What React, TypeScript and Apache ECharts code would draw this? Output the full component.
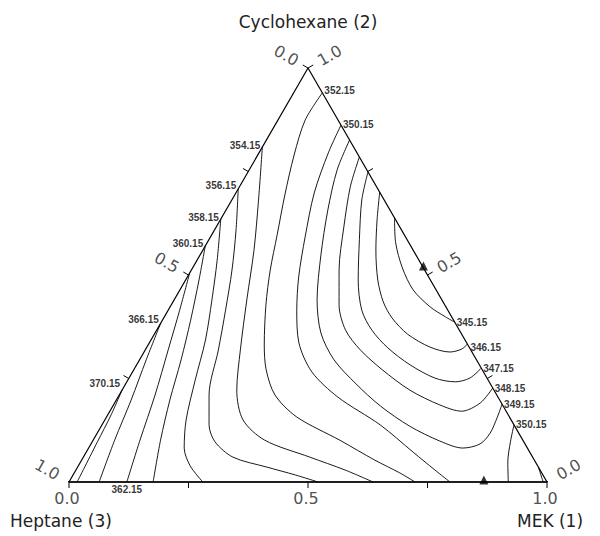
import React, { useEffect, useRef } from "react";
import * as echarts from "echarts";

const H = Math.sqrt(3) / 2;

// Isotherms: compositions [x MEK (1), x Cyclohexane (2)], first point = labelled end
const iso345 = [[0.614,0.386],[0.588,0.399],[0.544,0.423],[0.488,0.464],[0.439,0.517],[0.395,0.577],[0.362,0.638]];
const iso346 = [[0.667,0.333],[0.661,0.321],[0.640,0.314],[0.592,0.326],[0.530,0.357],[0.478,0.396],[0.440,0.435],[0.402,0.488],[0.362,0.560],[0.328,0.633],[0.300,0.700]];
const iso347 = [[0.725,0.275],[0.713,0.251],[0.687,0.242],[0.640,0.251],[0.572,0.283],[0.505,0.324],[0.450,0.367],[0.405,0.415],[0.361,0.488],[0.315,0.585],[0.272,0.681],[0.251,0.749]];
const iso348 = [[0.773,0.227],[0.765,0.191],[0.736,0.171],[0.683,0.186],[0.602,0.222],[0.520,0.271],[0.450,0.319],[0.395,0.367],[0.351,0.428],[0.309,0.512],[0.267,0.616],[0.232,0.713],[0.215,0.785]];
const iso349 = [[0.812,0.188],[0.818,0.155],[0.822,0.118],[0.814,0.092],[0.783,0.082],[0.726,0.099],[0.645,0.135],[0.559,0.184],[0.482,0.237],[0.407,0.295],[0.347,0.360],[0.299,0.440],[0.253,0.548],[0.213,0.657],[0.184,0.754],[0.174,0.826]];
const iso350a = [[0.138,0.862],[0.145,0.795],[0.164,0.698],[0.198,0.592],[0.233,0.495],[0.269,0.415],[0.313,0.336],[0.375,0.266],[0.460,0.205],[0.582,0.138],[0.684,0.072],[0.751,0.029],[0.797,0]];
const iso350b = [[0.862,0.138],[0.875,0.097],[0.894,0.048],[0.919,0]];
const iso352a = [[0.060,0.940],[0.057,0.874],[0.076,0.790],[0.105,0.693],[0.137,0.597],[0.165,0.512],[0.198,0.428],[0.243,0.331],[0.277,0.271],[0.326,0.210],[0.398,0.157],[0.516,0.101],[0.613,0.053],[0.681,0.022],[0.724,0]];
const iso352b = [[0.964,0.036],[0.992,0]];
const iso354 = [[0,0.809],[0.056,0.681],[0.107,0.560],[0.152,0.440],[0.199,0.319],[0.240,0.222],[0.289,0.150],[0.359,0.101],[0.474,0.060],[0.563,0.029],[0.636,0]];
const iso356 = [[0,0.708],[0.045,0.609],[0.085,0.512],[0.120,0.415],[0.153,0.319],[0.188,0.210],[0.224,0.138],[0.257,0.097],[0.313,0.060],[0.396,0.036],[0.465,0.017],[0.521,0]];
const iso358 = [[0,0.635],[0.042,0.536],[0.079,0.440],[0.114,0.343],[0.141,0.246],[0.170,0.150],[0.200,0.082],[0.234,0.039],[0.280,0]];
const iso360 = [[0,0.570],[0.028,0.488],[0.059,0.391],[0.087,0.295],[0.112,0.198],[0.141,0.101],[0.176,0]];
const iso362 = [[0.121,0],[0.098,0.101],[0.075,0.210],[0.048,0.319],[0.024,0.415],[0,0.505]];
const iso366 = [[0,0.384],[0.014,0.295],[0.031,0.198],[0.045,0.101],[0.063,0]];
const iso370 = [[0,0.222],[0.007,0.162],[0.011,0.097],[0.017,0]];

const levels = ["345.15","346.15","347.15","348.15","349.15","350.15","352.15","354.15","356.15","358.15","360.15","362.15","366.15","370.15"];

// azeotropes [x1, x2]
const azeotropes = [[0.483,0.517],[0.868,0]];

const tickMarks = [0, 0.25, 0.5, 0.75, 1];
const tickLabels = [0, 0.5, 1];

const axisTitles = ["Cyclohexane (2)", "Heptane (3)", "MEK (1)"];

const PX = 478; // pixels per data unit

const toXY = (p: number[]) => [p[0] + p[1] / 2, p[1] * H];

export default function App() {
  const ref = useRef<HTMLDivElement>(null);
  useEffect(() => {
    const chart = echarts.init(ref.current!, null, { renderer: "svg" });

    const contourDefs: any[] = [
      { level: levels[0], pts: iso345, pos: "right", off: [0, 0] },
      { level: levels[1], pts: iso346, pos: "right", off: [1, 3] },
      { level: levels[2], pts: iso347, pos: "right", off: [0, 0] },
      { level: levels[3], pts: iso348, pos: "right", off: [0, 0] },
      { level: levels[4], pts: iso349, pos: "right", off: [0, 0] },
      { level: levels[5], pts: iso350a, pos: "right", off: [0, -1] },
      { level: levels[5], pts: iso350b, pos: "right", off: [0, 0] },
      { level: levels[6], pts: iso352a, pos: "right", off: [0, -2] },
      { level: levels[6], pts: iso352b, pos: null, off: [0, 0] },
      { level: levels[7], pts: iso354, pos: "left", off: [0, -2] },
      { level: levels[8], pts: iso356, pos: "left", off: [0, -3] },
      { level: levels[9], pts: iso358, pos: "left", off: [0, -2] },
      { level: levels[10], pts: iso360, pos: "left", off: [0, -3] },
      { level: levels[11], pts: iso362, pos: "bottom", off: [0, 0] },
      { level: levels[12], pts: iso366, pos: "left", off: [0, -4] },
      { level: levels[13], pts: iso370, pos: "left", off: [0, -7] },
    ];

    const series: any[] = [];
    const black = "#000";

    // frame
    series.push({
      type: "line",
      data: [[0, 0], [1, 0], [0, 1], [0, 0]].map(toXY),
      symbol: "none",
      lineStyle: { color: black, width: 1.2 },
      clip: false,
      silent: true,
      z: 4,
    });
    series.push({
      type: "line",
      data: [[0, 0], [1, 0]].map(toXY),
      symbol: "none",
      lineStyle: { color: black, width: 1.6 },
      clip: false,
      silent: true,
      z: 4,
    });

    // edges: composition for parameter t and outward normal (data units, y up)
    const edges = [
      { f: (t: number) => [t, 0], n: [0, -1], rot: 0, dist: 16, shift: -2 },
      { f: (t: number) => [1 - t, t], n: [H, 0.5], rot: 30, dist: 25, shift: 0 },
      { f: (t: number) => [0, 1 - t], n: [-H, 0.5], rot: -30, dist: 25, shift: 0 },
    ];
    const tickLen = 6 / PX;
    edges.forEach((e) => {
      tickMarks.forEach((t) => {
        const p = toXY(e.f(t));
        series.push({
          type: "line",
          data: [p, [p[0] + e.n[0] * tickLen, p[1] + e.n[1] * tickLen]],
          symbol: "none",
          lineStyle: { color: black, width: 1 },
          clip: false,
          silent: true,
          z: 4,
        });
      });
    });

    // tick labels
    const tickLabelData: any[] = [];
    edges.forEach((e) => {
      tickLabels.forEach((t) => {
        const p = toXY(e.f(t));
        const d = e.dist / PX;
        tickLabelData.push({
          value: [p[0] + e.n[0] * d + e.shift / PX, p[1] + e.n[1] * d],
          label: { formatter: t.toFixed(1), rotate: e.rot },
        });
      });
    });
    series.push({
      type: "scatter",
      data: tickLabelData,
      symbolSize: 0,
      clip: false,
      silent: true,
      label: {
        show: true,
        position: "inside",
        color: "#222",
        fontSize: 16,
        fontFamily: "DejaVu Sans",
        align: "center",
        verticalAlign: "middle",
      },
      z: 5,
    });

    // isotherms
    contourDefs.forEach((c) => {
      series.push({
        type: "line",
        data: c.pts.map(toXY),
        symbol: "none",
        smooth: 0.3,
        lineStyle: { color: black, width: 0.9 },
        clip: false,
        silent: true,
        z: 3,
      });
    });

    // isotherm labels
    series.push({
      type: "scatter",
      symbolSize: 0,
      clip: false,
      silent: true,
      data: contourDefs
        .filter((c) => c.pos)
        .map((c) => ({
          value: toXY(c.pts[0]),
          label: { position: c.pos, offset: c.off, formatter: c.level },
        })),
      label: {
        show: true,
        distance: 2,
        color: black,
        fontSize: 10,
        fontWeight: "bold",
        fontFamily: "Liberation Sans",
      },
      z: 6,
    });

    // azeotropes
    series.push({
      type: "scatter",
      data: azeotropes.map(toXY),
      symbol: "triangle",
      symbolSize: [9, 9],
      symbolOffset: [0, -2],
      itemStyle: { color: black },
      clip: false,
      silent: true,
      z: 7,
    });

    const titleStyle = { fill: "#222", fontSize: 17, fontFamily: "DejaVu Sans" };

    chart.setOption({
      animation: false,
      backgroundColor: "#fff",
      grid: { left: 69, top: 68, width: 478, height: 414 },
      xAxis: { type: "value", min: 0, max: 1, show: false },
      yAxis: { type: "value", min: 0, max: H, show: false },
      series,
      graphic: [
        { type: "text", x: 308, y: 22, style: { ...titleStyle, text: axisTitles[0], align: "center", verticalAlign: "middle" } },
        { type: "text", x: 10, y: 521, style: { ...titleStyle, text: axisTitles[1], align: "left", verticalAlign: "middle" } },
        { type: "text", x: 517, y: 521, style: { ...titleStyle, text: axisTitles[2], align: "left", verticalAlign: "middle" } },
      ],
    });
    return () => chart.dispose();
  }, []);
  return (
    <div
      ref={ref}
      style={{ position: "absolute", left: 0, top: 0, width: 600, height: 536, background: "#fff" }}
    />
  );
}
